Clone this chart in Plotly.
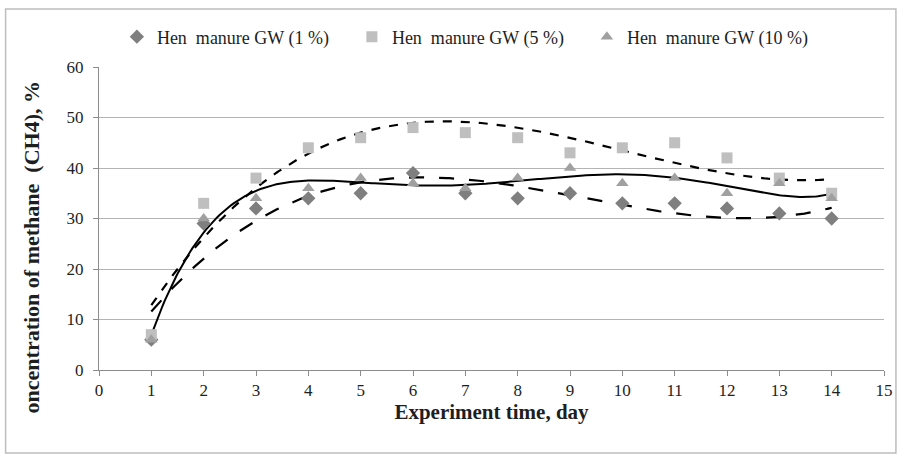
import numpy as np
import plotly.graph_objects as go

# Experiment day
days = list(range(1, 15))

# Methane concentration (CH4), % for each hen manure share
hen_1 = [6, 29, 32, 34, 35, 39, 35, 34, 35, 33, 33, 32, 31, 30]
hen_5 = [7, 33, 38, 44, 46, 48, 47, 46, 43, 44, 45, 42, 38, 35]
hen_10 = [6, 30, 34, 36, 38, 37, 36, 38, 40, 37, 38, 35, 37, 34]

series_names = ["Hen  manure GW (1 %)", "Hen  manure GW (5 %)", "Hen  manure GW (10 %)"]
x_ticks = list(range(0, 16))
y_ticks = list(range(0, 61, 10))

# Polynomial trendline degree per series
trend_degree = [3, 3, 5]

SERIF = "Liberation Serif, Times New Roman, serif"
TEXT = "#1e1e1e"

fig = go.Figure()

marker_styles = [
    dict(symbol="diamond", color="#7f7f7f", size=11),
    dict(symbol="square", color="#bfbfbf", size=11),
    dict(symbol="triangle-up", color="#a0a0a0", size=11),
]
line_styles = [
    dict(color="black", width=2.2, dash="longdash"),
    dict(color="black", width=2.2, dash="dash"),
    dict(color="black", width=2.0, dash="solid"),
]

all_series = [hen_1, hen_5, hen_10]

# Trendlines first so markers sit above them
xs = np.linspace(days[0], days[-1], 300)
for vals, deg, ls in zip(all_series, trend_degree, line_styles):
    coeffs = np.polyfit(np.array(days, dtype=float), np.array(vals, dtype=float), deg)
    fig.add_trace(go.Scatter(
        x=xs, y=np.polyval(coeffs, xs), mode="lines",
        line=ls, showlegend=False, hoverinfo="skip",
    ))

for name, vals, ms in zip(series_names, all_series, marker_styles):
    fig.add_trace(go.Scatter(
        x=days, y=vals, mode="markers", name=name,
        marker=dict(symbol=ms["symbol"], color=ms["color"], size=ms["size"], line=dict(width=0)),
    ))

L, R, T, B = 99, 16, 67, 90
W, H = 905, 460
pw, ph = W - L - R, H - T - B


def px_to_paper_x(px):
    return (px - L) / pw


def px_to_paper_y(py):
    return (H - B - py) / ph


fig.update_layout(
    width=W, height=H,
    margin=dict(l=L, r=R, t=T, b=B),
    paper_bgcolor="white", plot_bgcolor="white",
    font=dict(family=SERIF, size=17, color=TEXT),
    showlegend=True,
    legend=dict(
        orientation="h", x=px_to_paper_x(117), xanchor="left", y=px_to_paper_y(37), yanchor="middle",
        font=dict(family=SERIF, size=18, color=TEXT),
        itemwidth=30, entrywidth=190, entrywidthmode="pixels",
        tracegroupgap=0, bgcolor="rgba(0,0,0,0)",
    ),
    xaxis=dict(
        range=[0, 15], tickvals=x_ticks, ticktext=[str(t) for t in x_ticks],
        showgrid=False, zeroline=False,
        showline=True, linecolor="#8c8c8c", linewidth=1,
        ticks="outside", ticklen=5, tickcolor="#8c8c8c",
        tickfont=dict(family=SERIF, size=17, color=TEXT),
        title=dict(text="<b>Experiment time, day</b>", font=dict(family=SERIF, size=21, color=TEXT), standoff=3),
    ),
    yaxis=dict(
        range=[0, 60], tickvals=y_ticks, ticktext=[str(t) for t in y_ticks],
        showgrid=True, gridcolor="#b4b4b4", gridwidth=1, zeroline=False,
        showline=True, linecolor="#8c8c8c", linewidth=1,
        ticks="outside", ticklen=5, tickcolor="#8c8c8c", ticklabelstandoff=6,
        tickfont=dict(family=SERIF, size=17, color=TEXT),
    ),
    annotations=[
        dict(
            text="<b>oncentration of methane  (CH4), %</b>",
            xref="paper", yref="paper",
            x=px_to_paper_x(31), y=px_to_paper_y(247),
            xanchor="center", yanchor="middle", textangle=-90, showarrow=False,
            font=dict(family=SERIF, size=22, color=TEXT),
        )
    ],
    shapes=[
        dict(
            type="rect", xref="paper", yref="paper",
            x0=px_to_paper_x(5), x1=px_to_paper_x(901),
            y0=px_to_paper_y(453), y1=px_to_paper_y(9),
            line=dict(color="#bdbdbd", width=1.5), fillcolor="rgba(0,0,0,0)", layer="below",
        )
    ],
)

fig.write_html("out.html")
